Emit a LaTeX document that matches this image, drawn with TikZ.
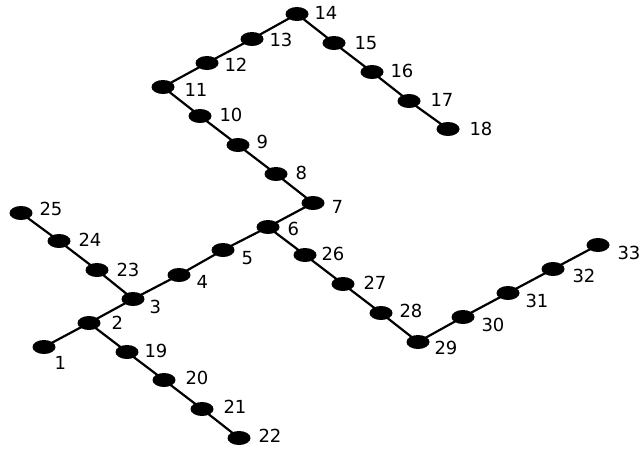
\documentclass[tikz,border=0pt]{standalone}
\usepackage{fontspec}
\setmainfont{DejaVu Sans}
\usepackage{tkz-euclide}
\usetikzlibrary{shapes.geometric}
\tikzset{vtx/.style={ellipse,fill=black,inner sep=0pt,minimum width=23pt,minimum height=14pt},
  lbl/.style={font=\fontsize{18}{21}\selectfont,text=black}}

\begin{document}
\begin{tikzpicture}[x=1pt,y=-1pt]
\useasboundingbox (0,0) rectangle (641,451);
\tkzSetUpLine[line width=2.2pt,color=black]

\tkzDefPoints{44/347/P1,89/323/P2,133/299/P3,179/275/P4,223/250/P5,268/227/P6,313/203/P7}
\tkzDefPoints{276/174/P8,238/145/P9,200/116/P10,163/87/P11,207/63/P12,252/39/P13,297/14/P14}
\tkzDefPoints{334/43/P15,372/72/P16,409/101/P17,448/129/P18}
\tkzDefPoints{127/352/P19,164/380/P20,202/409/P21,239/438/P22}
\tkzDefPoints{97/270/P23,59/241/P24,21/213/P25}
\tkzDefPoints{305/255/P26,343/284/P27,381/313/P28,418/342/P29,463/317/P30,508/293/P31,553/269/P32,598/245/P33}

\tkzDrawSegments[line width=2.2pt](P1,P2 P2,P3 P3,P4 P4,P5 P5,P6 P6,P7 P7,P8 P8,P9 P9,P10 P10,P11 P11,P12 P12,P13 P13,P14)
\tkzDrawSegments[line width=2.2pt](P14,P15 P15,P16 P16,P17 P17,P18)
\tkzDrawSegments[line width=2.2pt](P2,P19 P19,P20 P20,P21 P21,P22)
\tkzDrawSegments[line width=2.2pt](P3,P23 P23,P24 P24,P25)
\tkzDrawSegments[line width=2.2pt](P6,P26 P26,P27 P27,P28 P28,P29 P29,P30 P30,P31 P31,P32 P32,P33)

% vertices
\node[vtx] (v1) at (P1) {}; \node[vtx] (v2) at (P2) {}; \node[vtx] (v3) at (P3) {};
\node[vtx] (v4) at (P4) {}; \node[vtx] (v5) at (P5) {}; \node[vtx] (v6) at (P6) {};
\node[vtx] (v7) at (P7) {}; \node[vtx] (v8) at (P8) {}; \node[vtx] (v9) at (P9) {};
\node[vtx] (v10) at (P10) {}; \node[vtx] (v11) at (P11) {}; \node[vtx] (v12) at (P12) {};
\node[vtx] (v13) at (P13) {}; \node[vtx] (v14) at (P14) {}; \node[vtx] (v15) at (P15) {};
\node[vtx] (v16) at (P16) {}; \node[vtx] (v17) at (P17) {}; \node[vtx] (v18) at (P18) {};
\node[vtx] (v19) at (P19) {}; \node[vtx] (v20) at (P20) {}; \node[vtx] (v21) at (P21) {};
\node[vtx] (v22) at (P22) {}; \node[vtx] (v23) at (P23) {}; \node[vtx] (v24) at (P24) {};
\node[vtx] (v25) at (P25) {}; \node[vtx] (v26) at (P26) {}; \node[vtx] (v27) at (P27) {};
\node[vtx] (v28) at (P28) {}; \node[vtx] (v29) at (P29) {}; \node[vtx] (v30) at (P30) {};
\node[vtx] (v31) at (P31) {}; \node[vtx] (v32) at (P32) {}; \node[vtx] (v33) at (P33) {};

% labels
\tkzLabelPoint[lbl,right=7pt,yshift=-16pt](P1){1}
\tkzLabelPoint[lbl,right=19pt](P2){2}
\tkzLabelPoint[lbl,right=13pt,yshift=-8pt](P3){3}
\tkzLabelPoint[lbl,right=14pt,yshift=-7pt](P4){4}
\tkzLabelPoint[lbl,right=15pt,yshift=-8pt](P5){5}
\tkzLabelPoint[lbl,right=16pt,yshift=-2pt](P6){6}
\tkzLabelPoint[lbl,right=15pt,yshift=-4pt](P7){7}
\tkzLabelPoint[lbl,right=16pt,yshift=1pt](P8){8}
\tkzLabelPoint[lbl,right=15pt,yshift=3pt](P9){9}
\tkzLabelPoint[lbl,right=16pt,yshift=1pt](P10){10}
\tkzLabelPoint[lbl,right=18pt,yshift=-3pt](P11){11}
\tkzLabelPoint[lbl,right=14pt,yshift=-2pt](P12){12}
\tkzLabelPoint[lbl,right=14pt,yshift=-1pt](P13){13}
\tkzLabelPoint[lbl,right=14pt,yshift=1pt](P14){14}
\tkzLabelPoint[lbl,right=17pt](P15){15}
\tkzLabelPoint[lbl,right=15pt,yshift=1pt](P16){16}
\tkzLabelPoint[lbl,right=18pt,yshift=1pt](P17){17}
\tkzLabelPoint[lbl,right=18pt](P18){18}
\tkzLabelPoint[lbl,right=14pt,yshift=1pt](P19){19}
\tkzLabelPoint[lbl,right=18pt,yshift=2pt](P20){20}
\tkzLabelPoint[lbl,right=18pt,yshift=2pt](P21){21}
\tkzLabelPoint[lbl,right=16pt,yshift=2pt](P22){22}
\tkzLabelPoint[lbl,right=16pt](P23){23}
\tkzLabelPoint[lbl,right=16pt,yshift=1pt](P24){24}
\tkzLabelPoint[lbl,right=15pt,yshift=4pt](P25){25}
\tkzLabelPoint[lbl,right=13pt,yshift=1pt](P26){26}
\tkzLabelPoint[lbl,right=17pt,yshift=1pt](P27){27}
\tkzLabelPoint[lbl,right=15pt,yshift=2pt](P28){28}
\tkzLabelPoint[lbl,right=13pt,yshift=-6pt](P29){29}
\tkzLabelPoint[lbl,right=15pt,yshift=-8pt](P30){30}
\tkzLabelPoint[lbl,right=14pt,yshift=-8pt](P31){31}
\tkzLabelPoint[lbl,right=16pt,yshift=-7pt](P32){32}
\tkzLabelPoint[lbl,right=16pt,yshift=-8pt](P33){33}

\end{tikzpicture}
\end{document}
